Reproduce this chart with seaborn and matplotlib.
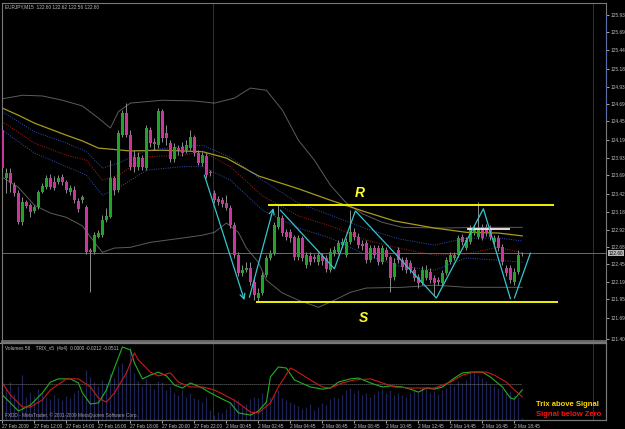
import matplotlib
matplotlib.use("Agg")
import matplotlib.pyplot as plt
import seaborn as sns
import pandas as pd

# EURJPY M15, 27 Feb 2009 10:00 -> 2 Mar 2009 ~20:30, one value per candle
opens = [124.32, 123.65, 123.72, 123.55, 123.44, 123.04, 123.32, 123.27, 123.19, 123.25,
         123.46, 123.53, 123.65, 123.60, 123.60, 123.67, 123.60, 123.46, 123.48, 123.33,
         123.34, 123.25, 122.64, 122.61, 122.82, 122.85, 123.06, 123.11, 123.65, 123.48,
         124.25, 124.56, 124.25, 123.95, 123.81, 123.93, 123.79, 124.32, 124.16, 124.11,
         124.59, 124.28, 124.14, 123.92, 124.07, 124.09, 124.04, 124.07, 124.23, 124.00,
         123.86, 123.96, 123.74, 123.44, 123.36, 123.34, 123.30, 123.23, 122.99, 122.57,
         122.32, 122.36, 122.39, 122.19, 121.97, 122.04, 122.29, 122.53, 122.60, 122.97,
         123.09, 122.89, 122.89, 122.82, 122.54, 122.81, 122.43, 122.56, 122.54, 122.47,
         122.56, 122.53, 122.36, 122.60, 122.61, 122.71, 122.57, 122.75, 122.89, 122.82,
         122.73, 122.74, 122.50, 122.67, 122.67, 122.47, 122.64, 122.54, 122.26, 122.64,
         122.50, 122.50, 122.46, 122.36, 122.26, 122.18, 122.25, 122.33, 122.25, 122.22,
         122.18, 122.32, 122.47, 122.53, 122.57, 122.82, 122.67, 122.75, 122.88, 122.82,
         122.97, 122.97, 122.95, 122.75, 122.81, 122.68, 122.39, 122.39, 122.19, 122.33,
         122.60]
highs = [124.39, 123.79, 123.79, 123.60, 123.48, 123.39, 123.34, 123.30, 123.27, 123.48,
         123.58, 123.69, 123.71, 123.68, 123.69, 123.71, 123.62, 123.55, 123.54, 123.37,
         123.41, 123.27, 122.67, 122.89, 122.92, 123.13, 123.23, 123.90, 123.68, 124.32,
         124.60, 124.70, 124.32, 124.04, 124.02, 123.97, 124.39, 124.37, 124.21, 124.63,
         124.62, 124.39, 124.18, 124.14, 124.11, 124.16, 124.18, 124.32, 124.25, 124.04,
         124.02, 124.00, 123.76, 123.48, 123.40, 123.39, 123.41, 123.27, 123.04, 122.61,
         122.43, 122.47, 122.47, 122.25, 122.11, 122.33, 122.57, 122.64, 123.04, 123.27,
         123.13, 122.94, 122.94, 122.85, 122.85, 122.84, 122.61, 122.61, 122.59, 122.61,
         122.60, 122.57, 122.67, 122.70, 122.78, 122.81, 122.81, 123.20, 122.95, 122.88,
         122.78, 122.78, 122.71, 122.71, 122.71, 122.71, 122.68, 122.57, 122.53, 122.68,
         122.54, 122.54, 122.50, 122.40, 122.31, 122.42, 122.43, 122.39, 122.29, 122.26,
         122.36, 122.54, 122.61, 122.61, 122.85, 122.87, 122.82, 122.99, 122.99, 123.32,
         123.01, 123.01, 122.99, 122.85, 122.85, 122.73, 122.43, 122.43, 122.39, 122.64,
         122.62]
lows = [123.74, 123.44, 123.46, 123.40, 123.01, 122.99, 123.23, 123.11, 123.16, 123.22,
        123.44, 123.50, 123.50, 123.48, 123.57, 123.55, 123.44, 123.41, 123.30, 123.18,
        123.30, 122.59, 122.05, 122.59, 122.81, 122.82, 123.04, 123.09, 123.41, 123.46,
        124.23, 124.23, 123.76, 123.74, 123.76, 123.76, 123.76, 124.09, 124.04, 124.07,
        124.16, 124.11, 123.88, 123.88, 123.97, 123.96, 124.00, 124.04, 123.96, 123.83,
        123.82, 123.65, 123.68, 123.30, 123.27, 123.25, 123.20, 122.95, 122.53, 122.28,
        122.28, 122.33, 122.15, 121.94, 121.91, 122.01, 122.26, 122.50, 122.57, 122.94,
        122.84, 122.78, 122.75, 122.50, 122.50, 122.49, 122.39, 122.43, 122.47, 122.43,
        122.43, 122.33, 122.33, 122.56, 122.59, 122.68, 122.54, 122.73, 122.78, 122.67,
        122.64, 122.46, 122.47, 122.53, 122.43, 122.45, 122.50, 122.05, 122.22, 122.46,
        122.36, 122.32, 122.32, 122.21, 122.11, 122.15, 122.22, 122.18, 122.00, 122.15,
        122.14, 122.29, 122.45, 122.50, 122.54, 122.71, 122.64, 122.73, 122.85, 122.80,
        122.78, 122.84, 122.78, 122.73, 122.63, 122.43, 122.28, 122.18, 122.15, 122.31,
        122.56]
closes = [123.79, 123.72, 123.58, 123.44, 123.04, 123.32, 123.26, 123.18, 123.25, 123.46,
          123.54, 123.65, 123.53, 123.51, 123.65, 123.60, 123.48, 123.51, 123.34, 123.22,
          123.39, 122.61, 122.61, 122.85, 122.88, 123.06, 123.12, 123.65, 123.48, 124.28,
          124.56, 124.25, 123.81, 123.81, 123.95, 123.81, 124.35, 124.14, 124.13, 124.59,
          124.21, 124.21, 123.92, 124.09, 124.04, 124.00, 124.11, 124.23, 124.00, 123.86,
          123.97, 123.69, 123.72, 123.34, 123.32, 123.29, 123.23, 122.99, 122.57, 122.32,
          122.36, 122.39, 122.19, 122.01, 122.04, 122.29, 122.53, 122.60, 122.99, 123.11,
          122.88, 122.82, 122.81, 122.54, 122.81, 122.53, 122.57, 122.47, 122.52, 122.57,
          122.49, 122.38, 122.61, 122.64, 122.74, 122.75, 122.75, 122.89, 122.82, 122.71,
          122.70, 122.50, 122.67, 122.57, 122.47, 122.67, 122.54, 122.25, 122.46, 122.50,
          122.40, 122.36, 122.36, 122.25, 122.18, 122.36, 122.36, 122.22, 122.18, 122.19,
          122.32, 122.50, 122.57, 122.57, 122.81, 122.75, 122.78, 122.95, 122.95, 122.95,
          122.81, 122.88, 122.82, 122.81, 122.67, 122.47, 122.32, 122.22, 122.33, 122.57,
          122.60]
volumes = [300, 340, 420, 290, 380, 500, 260, 310, 270, 350,
           300, 260, 230, 280, 250, 220, 270, 240, 300, 330,
           280, 560, 480, 420, 380, 450, 400, 520, 470, 600,
           640, 560, 810, 520, 430, 380, 470, 400, 350, 440,
           420, 330, 380, 300, 280, 330, 260, 300, 250, 230,
           200, 260, 110, 60, 90, 80, 120, 200, 240, 220,
           160, 180, 230, 260, 240, 300, 220, 260, 280, 330,
           240, 220, 200, 180, 160, 120, 140, 180, 110, 150,
           190, 170, 230, 260, 240, 280, 330, 360, 300, 330,
           280, 300, 260, 290, 320, 340, 300, 330, 280, 300,
           280, 260, 300, 330, 310, 360, 340, 300, 320, 290,
           330, 360, 400, 380, 430, 410, 450, 520, 530, 500,
           470, 440, 400, 380, 360, 340, 300, 320, 280, 260,
           20]

# overlays (bar index -> price)
ma_idx = [0, 4, 8, 16, 20, 24, 32, 40, 50, 56, 64, 74, 82, 90, 98, 108, 116, 124, 130]
ma_vals = [124.63, 124.53, 124.42, 124.25, 124.17, 124.07, 124.03, 124.04, 124.02, 123.93,
           123.68, 123.50, 123.34, 123.19, 123.05, 122.95, 122.89, 122.88, 122.84]
env_idx = [0, 8, 16, 21, 25, 29, 36, 45, 50, 57, 65, 74, 82, 91, 99, 108, 116, 124, 130]
env_upper = [124.58, 124.30, 124.14, 124.02, 123.79, 123.86, 124.04, 124.09, 124.11, 123.94,
             123.62, 123.30, 123.13, 122.94, 122.80, 122.71, 122.81, 122.81, 122.77]
env_mid = [124.44, 124.14, 123.97, 123.90, 123.62, 123.69, 123.95, 123.97, 124.02, 123.81,
           123.40, 123.12, 122.98, 122.78, 122.67, 122.57, 122.59, 122.68, 122.60]
env_lower = [124.32, 124.00, 123.81, 123.69, 123.41, 123.51, 123.76, 123.81, 123.81, 123.62,
             123.20, 122.95, 122.81, 122.57, 122.42, 122.36, 122.53, 122.50, 122.47]
bb_up_idx = [0, 5, 10, 15, 20, 24, 27, 29, 32, 40, 48, 53, 58, 62, 66, 70, 74, 78, 82, 86,
             90, 95, 100, 110, 120, 130]
bb_up = [124.76, 124.81, 124.80, 124.74, 124.66, 124.49, 124.35, 124.58, 124.70, 124.74,
         124.73, 124.70, 124.77, 124.91, 124.88, 124.60, 124.18, 123.90, 123.55, 123.30,
         123.15, 123.03, 122.96, 122.95, 122.96, 122.96]
bb_lo_idx = [0, 4, 8, 12, 16, 20, 23, 25, 28, 32, 37, 45, 50, 53, 56, 59, 61, 64, 66, 70,
             74, 79, 83, 87, 91, 100, 108, 116, 124, 130]
bb_lo = [123.66, 123.52, 123.27, 123.16, 123.10, 122.98, 122.75, 122.61, 122.67, 122.68,
         122.75, 122.81, 122.85, 122.89, 123.02, 122.89, 122.67, 122.47, 122.22, 122.04,
         121.94, 121.84, 121.94, 122.05, 122.11, 122.12, 122.15, 122.12, 122.12, 122.12]

# hand drawn zigzag, S/R levels
zz_down_x, zz_down_p = [50.5, 60.5], [123.69, 121.94]
zz_up_x, zz_up_p = [61.75, 67.75], [121.98, 123.23]
zz_x = [69.5, 83, 88.25, 108.5, 120.25, 127]
zz_p = [123.20, 122.38, 123.19, 121.97, 123.22, 121.96]
zz_last_x, zz_last_p = [128, 132], [121.97, 122.60]
res_level, res_from, res_to = 123.27, 66.5, 138
sup_level, sup_from, sup_to = 121.92, 63.5, 139
box_level, box_from, box_to = 122.94, 116.25, 127

# TRIX indicator
trix_idx = [0, 2, 4, 7, 10, 12, 14, 17, 19, 20, 22, 24, 26, 28, 30, 32, 33, 35, 37, 39,
            41, 43, 45, 47, 50, 52, 55, 57, 59, 62, 64, 66, 67, 69, 71, 73, 77, 80, 82, 84,
            87, 89, 92, 95, 97, 100, 102, 104, 106, 108, 110, 113, 115, 117, 120, 122, 125, 127, 128, 130]
trix_vals = [-0.041, -0.070, -0.100, -0.078, -0.033, 0.007, 0.019, 0.019, 0.004, -0.033,
             -0.074, -0.070, -0.022, 0.059, 0.137, 0.126, 0.078, 0.019, 0.033, 0.044,
             0.030, -0.004, -0.015, 0.004, -0.015, -0.033, -0.056, -0.070, -0.107, -0.115,
             -0.100, -0.067, 0.026, 0.063, 0.059, 0.015, -0.011, -0.019, -0.015, 0.007,
             0.019, 0.022, 0.004, -0.011, -0.007, -0.011, -0.019, -0.030, -0.015, -0.019,
             -0.011, 0.022, 0.041, 0.044, 0.044, 0.026, -0.011, -0.052, -0.056, -0.021]
sig_idx = [0, 2, 5, 7, 10, 12, 16, 19, 22, 24, 26, 28, 31, 33, 34, 37, 39, 42, 44, 47,
           50, 53, 57, 59, 62, 64, 67, 69, 72, 73, 77, 80, 82, 85, 88, 92, 95, 98, 102, 105,
           108, 112, 115, 118, 121, 123, 126, 128, 130]
sig_vals = [0.004, -0.041, -0.085, -0.085, -0.059, -0.022, 0.019, 0.019, -0.011, -0.052,
            -0.067, -0.033, 0.041, 0.115, 0.089, 0.044, 0.030, 0.041, 0.007, -0.011,
            -0.011, -0.022, -0.052, -0.070, -0.104, -0.107, -0.070, -0.011, 0.059, 0.052,
            0.015, -0.011, -0.015, 0.004, 0.015, 0.019, 0.004, -0.011, -0.015, -0.015,
            -0.015, 0.007, 0.033, 0.044, 0.044, 0.033, 0.007, -0.022, -0.048]

price_ticks = [121.40, 121.69, 121.95, 122.19, 122.45, 122.68, 122.92, 123.18, 123.42, 123.69,
               123.93, 124.19, 124.45, 124.69, 124.93, 125.18, 125.44, 125.69, 125.93]
time_ticks = [0, 8, 16, 24, 32, 40, 48, 56, 64, 72, 80, 88, 96, 104, 112, 120, 128]
time_labels = ["27 Feb 2009", "27 Feb 12:00", "27 Feb 14:00", "27 Feb 16:00", "27 Feb 18:00",
               "27 Feb 20:00", "27 Feb 22:00", "2 Mar 00:45", "2 Mar 02:45", "2 Mar 04:45",
               "2 Mar 06:45", "2 Mar 08:45", "2 Mar 10:45", "2 Mar 12:45", "2 Mar 14:45",
               "2 Mar 16:45", "2 Mar 18:45"]
vol_max = 858
separators = [52.75, 147.75]

# ---- style ----
GREY_TXT = "#c0c0c0"
sns.set_theme(style="dark", rc={
    "figure.facecolor": "black", "axes.facecolor": "black", "savefig.facecolor": "black",
    "axes.edgecolor": "#787878", "axes.linewidth": 0.8, "text.color": GREY_TXT,
    "xtick.color": GREY_TXT, "ytick.color": GREY_TXT, "axes.grid": False,
})
plt.rcParams["font.family"] = ["Liberation Sans", "DejaVu Sans"]
FS = 3.4

W, H = 625, 429
fig = plt.figure(figsize=(W / 100, H / 100), dpi=100)
ax = fig.add_axes([2 / W, 1 - 341 / H, 604 / W, 338 / H])
axi = fig.add_axes([2 / W, 1 - 420 / H, 604 / W, 77 / H], sharex=ax)
XL = (-0.1, 150.9)

n = len(closes)
idx = list(range(n))
df = pd.DataFrame({"i": idx, "o": opens, "h": highs, "l": lows, "c": closes, "v": volumes})
df["bull"] = df["c"] >= df["o"]
df["lo"] = df[["o", "c"]].min(axis=1)
df["body"] = (df["c"] - df["o"]).abs().clip(lower=0.006)

# bands and averages underneath the candles
sns.lineplot(x=bb_up_idx, y=bb_up, ax=ax, color="#5c5c5c", linewidth=0.7, zorder=1)
sns.lineplot(x=bb_lo_idx, y=bb_lo, ax=ax, color="#5c5c5c", linewidth=0.7, zorder=1)
sns.lineplot(x=ma_idx, y=ma_vals, ax=ax, color="#a89a1c", linewidth=0.9, zorder=1)
dot = (0, (1, 1.4))
sns.lineplot(x=env_idx, y=env_upper, ax=ax, color="#2f4fb8", linewidth=0.7, linestyle=dot, zorder=1)
sns.lineplot(x=env_idx, y=env_mid, ax=ax, color="#b01c1c", linewidth=0.7, linestyle=dot, zorder=1)
sns.lineplot(x=env_idx, y=env_lower, ax=ax, color="#2f4fb8", linewidth=0.7, linestyle=dot, zorder=1)

ax.axhline(closes[-1], color="#7a7a7a", lw=0.6, zorder=2)
for sx in separators:
    ax.axvline(sx, color="#8a8a8a", lw=0.6, linestyle=dot, zorder=2)
    axi.axvline(sx, color="#8a8a8a", lw=0.6, linestyle=dot, zorder=2)

# candles
ax.vlines(df["i"], df["l"], df["h"], color="#8c8c8c", lw=0.7, zorder=3)
ax.bar(df["i"], df["body"], bottom=df["lo"], width=0.72, linewidth=0,
       color=["#22a428" if b else "#c8389a" for b in df["bull"]], zorder=4)

# S/R lines, zigzag
CY = "#34c6cf"
ax.hlines(res_level, res_from, res_to, color="#f2f200", lw=1.4, zorder=5)
ax.hlines(sup_level, sup_from, sup_to, color="#f2f200", lw=1.4, zorder=5)
ax.hlines(box_level, box_from, box_to, color="#f0f0f0", lw=1.3, zorder=5)
sns.lineplot(x=zz_x, y=zz_p, ax=ax, color=CY, linewidth=0.9, sort=False, zorder=6)
sns.lineplot(x=zz_last_x, y=zz_last_p, ax=ax, color=CY, linewidth=0.9, sort=False, zorder=6)
for xs, ps in [(zz_down_x, zz_down_p), (zz_up_x, zz_up_p)]:
    ax.annotate("", xy=(xs[1], ps[1]), xytext=(xs[0], ps[0]), zorder=6,
                arrowprops=dict(arrowstyle="->", color=CY, lw=0.9, mutation_scale=9,
                                shrinkA=0, shrinkB=0))
ax.text(89.3, 123.44, "R", color="#ffff30", fontsize=10, fontweight="bold", style="italic",
        ha="center", va="center", family=["Liberation Sans", "DejaVu Sans"])
ax.text(90.3, 121.69, "S", color="#ffff30", fontsize=10, fontweight="bold", style="italic",
        ha="center", va="center", family=["Liberation Sans", "DejaVu Sans"])

# axes: main
ax.set_xlim(*XL)
ax.set_ylim(121.368, 126.102)
ax.yaxis.tick_right()
ax.set_yticks(price_ticks)
ax.set_yticklabels([f"{v:.2f}" for v in price_ticks])
ax.tick_params(axis="y", length=2, width=0.6, pad=1.0, labelsize=FS, colors=GREY_TXT)
ax.tick_params(axis="x", bottom=False, labelbottom=False)
ax.set_xlabel(None)
ax.set_ylabel(None)
ax.vlines(XL[1] - 0.05, 124.49, 125.96, color="#3a5ee0", lw=0.9, linestyle=dot, zorder=7, clip_on=False)
ax.text(1.005, closes[-1], f"{closes[-1]:.2f}", transform=ax.get_yaxis_transform(),
        fontsize=FS, color="black", ha="left", va="center", clip_on=False,
        bbox=dict(boxstyle="square,pad=0.2", facecolor="#b8b8b8", edgecolor="none"))
ax.text(3 / 604, 1 - 1.2 / 338, "EURJPY,M15  122.60 122.62 122.56 122.60", transform=ax.transAxes,
        fontsize=FS, color=GREY_TXT, ha="left", va="top")

# axes: indicator
axi.vlines(df["i"], 0, df["v"], color="#1f2456", lw=0.9, zorder=1)
axi.set_ylim(0, vol_max)
axi.yaxis.tick_right()
axi.set_yticks([0, vol_max])
axi.set_yticklabels(["0", str(vol_max)])
axi.tick_params(axis="y", length=2, width=0.6, pad=1.0, labelsize=FS, colors=GREY_TXT)
ylab = axi.get_yticklabels()
ylab[0].set_va("bottom")
ylab[1].set_va("top")
axi.set_xticks(time_ticks)
axi.set_xticklabels(time_labels)
for lbl in axi.get_xticklabels():
    lbl.set_ha("left")
axi.tick_params(axis="x", length=2, width=0.6, pad=0.8, labelsize=FS, colors=GREY_TXT, bottom=True)
axi.spines["top"].set_linewidth(1.6)
ax.spines["bottom"].set_linewidth(1.2)

axt = axi.twinx()
axt.set_ylim(-0.1332, 0.1517)
axt.hlines(0, 0, n - 1, color="#a0a0a0", lw=0.6, linestyle=dot)
sns.lineplot(x=trix_idx, y=trix_vals, ax=axt, color="#22b022", linewidth=0.8)
sns.lineplot(x=sig_idx, y=sig_vals, ax=axt, color="#cc1818", linewidth=0.8)
axt.set_yticks([])
axt.set_ylabel(None)
axt.set_xlim(*XL)

axi.text(3 / 604, 1 - 3 / 77, "Volumes 56    TRIX_v5  (4x4)  0.0000 -0.0212 -0.0511",
         transform=axi.transAxes, fontsize=FS, color=GREY_TXT, ha="left", va="top", zorder=8)
axi.text(3 / 604, 2 / 77, "FXDD - MetaTrader, \u00a9 2001-2009 MetaQuotes Software Corp.",
         transform=axi.transAxes, fontsize=FS, color="#a0a0a0", ha="left", va="bottom", zorder=8)
axi.text(534 / 604, 16 / 77, "Trix above Signal", transform=axi.transAxes, fontsize=5.5,
         fontweight="bold", color="#ffd800", ha="left", va="center", zorder=8)
axi.text(534 / 604, 5 / 77, "Signal below Zero", transform=axi.transAxes, fontsize=5.5,
         fontweight="bold", color="#ff1010", ha="left", va="center", zorder=8)

fig.savefig("out.png", dpi=100, facecolor="black")
